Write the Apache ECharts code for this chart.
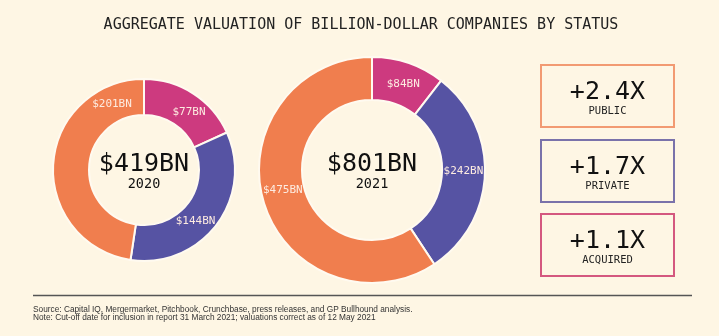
<!DOCTYPE html>
<html>
<head>
<meta charset="utf-8">
<script src="https://cdn.jsdelivr.net/npm/echarts@6/dist/echarts.min.js"></script>
<style>
html,body{margin:0;padding:0;background:#fef6e4;}
#c{width:719px;height:336px;}
</style>
</head>
<body>
<div id="c"></div>
<script>
// ---- data ----
const titleText = 'AGGREGATE VALUATION OF BILLION-DOLLAR COMPANIES BY STATUS';
const categories = ['Acquired', 'Private', 'Public'];
const values2020 = [77, 144, 201];
const values2021 = [84, 242, 475];
const years = ['2020', '2021'];
const totals = ['$419BN', '$801BN'];
const multiples = ['+2.4X', '+1.7X', '+1.1X'];
const multipleLabels = ['PUBLIC', 'PRIVATE', 'ACQUIRED'];
const footnotes = [
  'Source: Capital IQ, Mergermarket, Pitchbook, Crunchbase, press releases, and GP Bullhound analysis.',
  'Note: Cut-off date for inclusion in report 31 March 2021; valuations correct as of 12 May 2021'
];

// ---- style ----
const bg = '#fef6e4';
const sliceColors = ['#cd3a7f', '#5653a3', '#f07e4e'];
const boxColors = ['#f29a72', '#7a72aa', '#d4587f'];
const mono = '"DejaVu Sans Mono", monospace';
const sans = '"Liberation Sans", Arial, sans-serif';
const donuts = [
  { center: [144, 170], radius: [55, 91], labelAngles: [38, 135, 334] },
  { center: [372, 170], radius: [70, 113], labelAngles: [20, 91, 257] }
];
const dataSets = [values2020, values2021];

function makeLabelLayout(si) {
  return function (p) {
    const d = donuts[si];
    const a = d.labelAngles[p.dataIndex] * Math.PI / 180;
    const r = (d.radius[0] + d.radius[1]) / 2;
    return {
      x: d.center[0] + r * Math.sin(a),
      y: d.center[1] - r * Math.cos(a),
      align: 'center',
      verticalAlign: 'middle'
    };
  };
}

const series = dataSets.map((vals, si) => ({
  type: 'pie',
  center: donuts[si].center,
  radius: donuts[si].radius,
  startAngle: 90,
  clockwise: true,
  silent: true,
  itemStyle: { borderColor: '#fffaf0', borderWidth: 2 },
  label: {
    show: true,
    position: 'inside',
    formatter: p => '$' + p.value + 'BN',
    fontFamily: mono,
    fontSize: 11,
    color: '#fdebe0'
  },
  labelLine: { show: false },
  labelLayout: makeLabelLayout(si),
  emphasis: { disabled: true },
  data: vals.map((v, i) => ({ name: categories[i], value: v, itemStyle: { color: sliceColors[i] } }))
}));

const graphics = [];
graphics.push({
  type: 'text', x: 361, y: 25,
  style: { text: titleText, font: '15px ' + mono, fill: '#222', textAlign: 'center', textVerticalAlign: 'middle' }
});
donuts.forEach((d, i) => {
  graphics.push({ type: 'text', x: d.center[0], y: d.center[1] - 6,
    style: { text: totals[i], font: '25px ' + mono, fill: '#111', textAlign: 'center', textVerticalAlign: 'middle' } });
  graphics.push({ type: 'text', x: d.center[0], y: d.center[1] + 14,
    style: { text: years[i], font: '13.5px ' + mono, fill: '#111', textAlign: 'center', textVerticalAlign: 'middle' } });
});
const boxTops = [65, 140, 214];
boxTops.forEach((t, i) => {
  graphics.push({ type: 'rect', shape: { x: 541, y: t, width: 133, height: 62 },
    style: { fill: bg, stroke: boxColors[i], lineWidth: 2 } });
  graphics.push({ type: 'text', x: 607.5, y: t + 27,
    style: { text: multiples[i], font: '25px ' + mono, fill: '#111', textAlign: 'center', textVerticalAlign: 'middle' } });
  graphics.push({ type: 'text', x: 607.5, y: t + 46.5,
    style: { text: multipleLabels[i], font: '10.5px ' + mono, fill: '#222', textAlign: 'center', textVerticalAlign: 'middle' } });
});
graphics.push({ type: 'line', shape: { x1: 33, y1: 295.5, x2: 692, y2: 295.5 },
  style: { stroke: '#555', lineWidth: 1.5 } });
footnotes.forEach((f, i) => {
  graphics.push({ type: 'text', x: 33, y: 310 + i * 7.5,
    style: { text: f, font: '8.3px ' + sans, fill: '#333', textAlign: 'left', textVerticalAlign: 'middle' } });
});

const chart = echarts.init(document.getElementById('c'));
chart.setOption({
  backgroundColor: bg,
  animation: false,
  series: series,
  graphic: { elements: graphics }
});
</script>
</body>
</html>
